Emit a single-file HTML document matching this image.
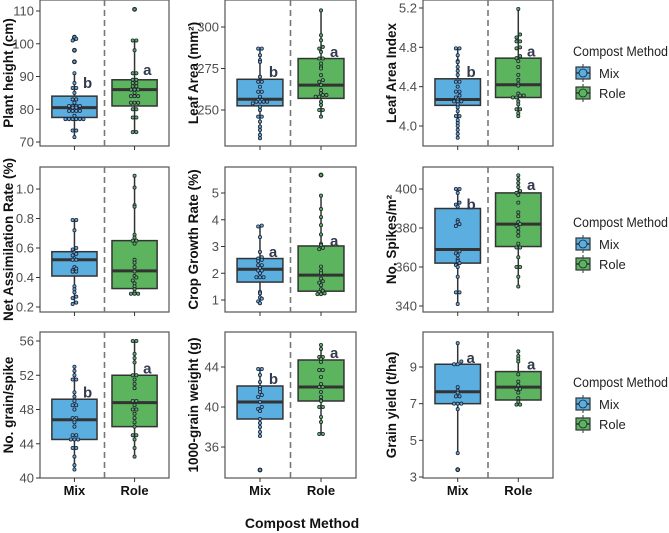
<!DOCTYPE html>
<html><head><meta charset="utf-8"><style>
body{margin:0;background:#fff;}
svg{display:block;font-family:"Liberation Sans",Arial,sans-serif;}
</style></head><body>
<svg id="c" width="669" height="533" viewBox="0 0 669 533"></svg>
<script>
const NS="http://www.w3.org/2000/svg";
const svg=document.getElementById('c');
const groups=["Mix","Role"];
const titles=["Plant height (cm)","Leaf Area (mm²)","Leaf Area Index","Net Assimilation Rate (%)","Crop Growth Rate (%)","No. Spikes/m²","No. grain/spike","1000-grain weight (g)","Grain yield (t/ha)"];
const ticks=[[70,80,90,100,110],[250,275,300],[4.0,4.4,4.8,5.2],[0.2,0.4,0.6,0.8,1.0],[1,2,3,4,5],[340,360,380,400],[40,44,48,52,56],[36,40,44],[3,5,7,9]];
const tickLabels=[["70","80","90","100","110"],["250","275","300"],["4.0","4.4","4.8","5.2"],["0.2","0.4","0.6","0.8","1.0"],["1","2","3","4","5"],["340","360","380","400"],["40","44","48","52","56"],["36","40","44"],["3","5","7","9"]];
// [q1, median, q3, whiskerLow, whiskerHigh] for Mix and Role
const mixBox=[[77.5,80.5,84,71.5,91],[252.5,256.5,268.5,233,287],[4.21,4.27,4.48,3.88,4.79],[0.41,0.52,0.575,0.22,0.79],[1.67,2.15,2.55,0.88,3.78],[362,369,390,341,400],[44.5,46.8,49.2,41,53],[38.8,40.5,42.1,37.1,43.8],[7.0,7.65,9.15,4.3,10.3]];
const roleBox=[[81,86,89,73,101],[257,265,281,246,310],[4.29,4.42,4.69,4.10,5.19],[0.325,0.445,0.65,0.29,1.09],[1.33,1.93,3.02,1.22,4.9],[370.5,382,398,350,407],[46,48.8,52,42.5,56],[40.6,42,44.7,37.3,46.2],[7.2,7.9,8.75,6.95,9.85]];
const mixOut=[[94.5,98,101.5,102],[],[],[],[],[],[],[33.7],[3.4]];
const roleOut=[[110.5],[],[],[],[5.67],[],[],[],[]];
const mixDots=[[71.5,73.5,73.5,77,77,77,77,77,77,78,79.5,79.5,79.5,79.5,80.5,80.5,81,81,81,81,82,83,83,85,86.5,86.5,88,91,94.5,98,101,101.5,102],
[233,235,238,240,243,246,246,250,252,254,255,255,255,255,256,256,258,261,261,264,267,267,270,279,280,283,287,287],
[3.88,3.92,3.96,4.0,4.03,4.06,4.1,4.1,4.15,4.19,4.22,4.25,4.25,4.25,4.27,4.29,4.31,4.35,4.35,4.40,4.45,4.45,4.52,4.56,4.60,4.65,4.66,4.72,4.79,4.79],
[0.22,0.23,0.26,0.27,0.30,0.32,0.34,0.44,0.44,0.45,0.46,0.47,0.52,0.52,0.53,0.55,0.56,0.57,0.59,0.6,0.72,0.79,0.79],
[0.88,0.95,1.05,1.1,1.25,1.3,1.85,1.85,1.85,2.0,2.1,2.1,2.2,2.3,2.3,2.45,2.5,2.55,2.6,2.8,3.35,3.75,3.78],
[341,347,347,355,360,361,362,363,364,366,367,368,381,382,383,384,391,392,393,398,400,400],
[41,41.5,42.5,43.5,43.5,44.5,44.5,44.5,45,45,46,46.5,46.8,47,47,48,48.5,48.5,49,49.5,50,51.5,51.5,52,52.5,53],
[33.7,37.1,37.5,38,38.4,38.8,39.6,39.8,40,40.5,41,41.2,41.5,41.8,42,42.5,43.2,43.8,43.8],
[3.4,4.3,6.7,7.0,7.0,7.0,7.4,7.4,7.6,7.7,7.9,9.15,9.15,9.3,10.3]];
const roleDots=[[73,73,77.5,77.5,80,80,82,82,82,84,84,84,85,86,86,86,87,87,88,88,89,89,91,91,98,101,101,110.5],
[246,250,250,253,255,258,258,259,259,260,262,265,267,268,271,275,276,278,281,281,285,287,288,292,295,310],
[4.10,4.13,4.17,4.17,4.22,4.25,4.29,4.29,4.31,4.31,4.33,4.41,4.43,4.47,4.52,4.6,4.66,4.69,4.71,4.79,4.80,4.86,4.86,4.90,4.93,5.19],
[0.29,0.29,0.29,0.30,0.32,0.34,0.36,0.38,0.40,0.41,0.44,0.47,0.50,0.52,0.63,0.65,0.65,0.67,0.69,0.88,0.89,1.01,1.09],
[1.22,1.22,1.25,1.3,1.35,1.4,1.55,1.65,1.7,1.8,2.0,2.1,2.25,2.9,2.95,3.05,3.1,3.45,3.8,4.1,4.4,4.9,5.67],
[350,355,360,360,365,370,370,372,376,378,380,381,382,383,386,388,393,397,398,399,401,403,405,407],
[42.5,43.5,44.5,45,45,46,46.5,47,47.5,48,48,48.5,49,49,50.5,51,51.5,52,52,53.5,54,54.5,56,56],
[37.3,37.3,38.5,39,40,40,40.6,40.7,41,41.5,42,42,42.3,43,43.7,43.7,44.5,44.8,45,45,45.8,46.2],
[6.95,6.95,7.1,7.3,7.6,7.8,7.8,8.0,8.2,8.6,9.3,9.45,9.6,9.85]];
const mixLetter=["b","b","b","","a","b","b","b","a"];
const roleLetter=["a","a","a","","a","a","a","a","a"];
const mixLetterY=[88,273,4.55,0,2.8,392,50,42.8,9.5];
const roleLetterY=[92,285,4.76,0,3.2,402,52.8,45.4,9.15];
// axis calibration: two reference tick values per panel
const calV=[[70,110],[250,300],[4.0,5.2],[0.2,1.0],[1,5],[340,400],[40,56],[36,44],[3,9]];

const colX=[[40,169],[225,356],[423,553]];
const rowY=[[0,146],[167,312],[332,478]];
const calPx=[[142,11],[110,27],[126,8],[307,189],[300,193],[306,189],[478,341],[447,367],[477,367]];
const COL={Mix:"#5aaee0",Role:"#5cb45e"};

function el(t,a,p){const e=document.createElementNS(NS,t);for(const k in a)e.setAttribute(k,a[k]);(p||svg).appendChild(e);return e;}

for(let i=0;i<9;i++){
  const c=i%3,r=Math.floor(i/3);
  const [x0,x1]=colX[c],[y0,y1]=rowY[r];
  const [va,vb]=calV[i],[pa,pb]=calPx[i];
  const y=v=>pa+(v-va)*(pb-pa)/(vb-va);
  const xm=x0+(x1-x0)*0.267, xr=x0+(x1-x0)*0.733, xd=(x0+x1)/2;
  const xs=[xm,xr];
  const g=el('g',{});
  
  
  const bg=el('rect',{x:x0,y:y0,width:x1-x0,height:y1-y0,fill:'#fff',stroke:'#555','stroke-width':1.2},g);
  
  const dl=el('line',{x1:xd,x2:xd,y1:y0,y2:y1,stroke:'#777','stroke-width':1.6,'stroke-dasharray':'6,4'},g);
  
  ticks[i].forEach((t,k)=>{
    const ty=y(t);
    el('line',{x1:x0-4,x2:x0,y1:ty,y2:ty,stroke:'#333','stroke-width':1},g);
    const tx=el('text',{x:x0-6,y:ty+4.5,'text-anchor':'end','font-size':13,fill:'#4d4d4d'},g);
    tx.textContent=tickLabels[i][k];
    
  });
  xs.forEach(xx=>el('line',{x1:xx,x2:xx,y1:y1,y2:y1+4,stroke:'#333','stroke-width':1},g));
  const yt=el('text',{transform:`translate(${x0-27},${(y0+y1)/2}) rotate(-90)`,'text-anchor':'middle','font-size':13.5,'font-weight':'bold',fill:'#111'},g);
  yt.textContent=titles[i];
  
  const boxes=[mixBox[i],roleBox[i]],outs=[mixOut[i],roleOut[i]],dots=[mixDots[i],roleDots[i]];
  const lets=[mixLetter[i],roleLetter[i]],letY=[mixLetterY[i],roleLetterY[i]];
  const bw=(x1-x0)*0.35;
  for(let j=0;j<2;j++){
    const [q1,md,q3,lo,hi]=boxes[j],cx=xs[j],col=COL[groups[j]];
    el('line',{x1:cx,x2:cx,y1:y(hi),y2:y(lo),stroke:'#333','stroke-width':1.5},g);
    const b=el('rect',{x:cx-bw/2,y:y(q3),width:bw,height:y(q1)-y(q3),fill:col,stroke:'#333','stroke-width':1.5},g);
    
    el('line',{x1:cx-bw/2,x2:cx+bw/2,y1:y(md),y2:y(md),stroke:'#333','stroke-width':3},g);
    outs[j].forEach(o=>{const oc=el('circle',{cx:cx,cy:y(o),r:2.4,fill:'#222'},g);
      });
    const bins={};
    dots[j].forEach(v=>{const k=Math.round(y(v)/3);(bins[k]=bins[k]||[]).push(v);});
    Object.keys(bins).forEach(k=>{
      const arr=bins[k],n=arr.length;
      arr.forEach((v,m)=>{
        const d=el('circle',{cx:cx+(m-(n-1)/2)*3.6,cy:y(v),r:1.6,fill:col,stroke:'#223','stroke-width':0.8},g);
        
      });
    });
    if(lets[j]){const lt=el('text',{x:cx+bw/2-14,y:y(letY[j])+5,'font-size':15,'font-weight':'bold',fill:'#333a4d'},g);
      lt.textContent=lets[j];}
    if(r===2){const xl=el('text',{x:cx,y:y1+17,'text-anchor':'middle','font-size':13,'font-weight':'bold',fill:'#111'},g);
      xl.textContent=groups[j];}
  }
}
const xt=el('text',{x:302,y:528,'text-anchor':'middle','font-size':14,'font-weight':'bold',fill:'#111'});
xt.textContent="Compost Method";

const legY=[51,222,382];
legY.forEach(ly=>{
  const lg=el('g',{});
  
  const t=el('text',{x:573,y:ly+5,'font-size':13.5,fill:'#222',textLength:95,lengthAdjust:'spacingAndGlyphs'},lg);t.textContent="Compost Method";
  
  groups.forEach((gname,j)=>{
    const ky=ly+22+j*20;
    const e=el('g',{},lg);
    
    el('line',{x1:583,x2:583,y1:ky-9,y2:ky+9,stroke:'#333','stroke-width':1},e);
    el('rect',{x:576,y:ky-6,width:14,height:12,fill:COL[gname],stroke:'#333','stroke-width':1.2},e);
    el('line',{x1:576,x2:590,y1:ky,y2:ky,stroke:'#333','stroke-width':1.5},e);
    el('circle',{cx:583,cy:ky,r:4,fill:COL[gname],stroke:'#223','stroke-width':0.8},e);
    const lt=el('text',{x:599,y:ky+5,'font-size':13,fill:'#222'},e);lt.textContent=gname;
  });
});
</script>
</body></html>
